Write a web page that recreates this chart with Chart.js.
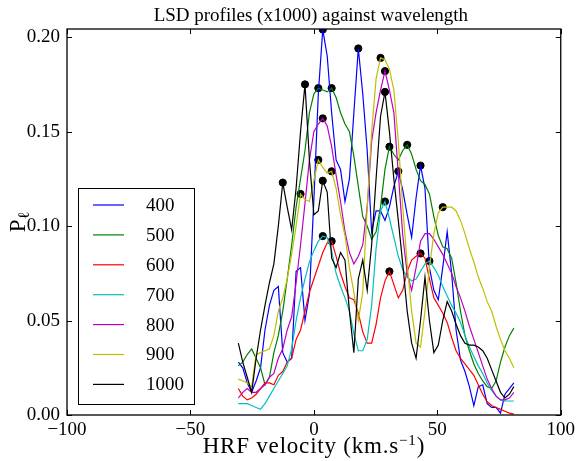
<!DOCTYPE html>
<html lang="en">
<head>
<meta charset="UTF-8">
<title>LSD profiles (x1000) against wavelength</title>
<script src="https://cdn.jsdelivr.net/npm/chart.js"></script>
<style>
  html, body { margin: 0; padding: 0; background: #fff; }
  #wrap { width: 579px; height: 461px; }
</style>
</head>
<body>
<div id="wrap"><canvas id="lsdChart" width="579" height="461"></canvas></div>
<script>
// velocity grid (km/s) shared by all profiles
const velocity = [-30.6, -28.8, -27.0, -25.2, -23.4, -21.6, -19.8, -18.0, -16.2, -14.4,
  -12.6, -10.8, -9.0, -7.2, -5.4, -3.6, -1.8, 0.0, 1.8, 3.6,
  5.4, 7.2, 9.0, 10.8, 12.6, 14.4, 16.2, 18.0, 19.8, 21.6,
  23.4, 25.2, 27.0, 28.8, 30.6, 32.4, 34.2, 36.0, 37.8, 39.6,
  41.4, 43.2, 45.0, 46.8, 48.6, 50.4, 52.2, 54.0, 55.8, 57.6,
  59.4, 61.2, 63.0, 64.8, 66.6, 68.4, 70.2, 72.0, 73.8, 75.6,
  77.4, 79.2, 81.0];

const p400 = [0.028, 0.025, 0.017, 0.012, 0.018, 0.025, 0.045, 0.058, 0.066, 0.068,
  0.033, 0.028, 0.030, 0.076, 0.078, 0.050, 0.064, 0.114, 0.170, 0.204,
  0.190, 0.160, 0.135, 0.130, 0.113, 0.125, 0.160, 0.194, 0.170, 0.140,
  0.097, 0.108, 0.108, 0.103, 0.110, 0.121, 0.129, 0.119, 0.106, 0.094,
  0.115, 0.132, 0.120, 0.078, 0.066, 0.061, 0.078, 0.097, 0.075, 0.045,
  0.029, 0.023, 0.015, 0.005, 0.015, 0.016, 0.006, 0.004, 0.004, 0.001,
  0.011, 0.014, 0.017];

const p500 = [0.026, 0.028, 0.032, 0.035, 0.030, 0.025, 0.016, 0.020, 0.033, 0.042,
  0.055, 0.072, 0.090, 0.110, 0.125, 0.140, 0.160, 0.170, 0.173, 0.172,
  0.171, 0.173, 0.168, 0.160, 0.154, 0.150, 0.137, 0.121, 0.105, 0.100,
  0.093, 0.097, 0.110, 0.130, 0.142, 0.138, 0.135, 0.140, 0.143, 0.138,
  0.130, 0.124, 0.122, 0.117, 0.105, 0.095, 0.089, 0.088, 0.083, 0.070,
  0.055, 0.042, 0.034, 0.027, 0.022, 0.018, 0.015, 0.014, 0.018, 0.028,
  0.036, 0.042, 0.046];

const p600 = [0.014, 0.010, 0.008, 0.009, 0.011, 0.014, 0.017, 0.017, 0.016, 0.021,
  0.023, 0.028, 0.030, 0.040, 0.045, 0.055, 0.065, 0.072, 0.079, 0.086,
  0.091, 0.092, 0.084, 0.075, 0.068, 0.062, 0.061, 0.054, 0.044, 0.038,
  0.038, 0.048, 0.062, 0.071, 0.076, 0.069, 0.062, 0.066, 0.076, 0.082,
  0.084, 0.0855, 0.083, 0.072, 0.062, 0.058, 0.054, 0.049, 0.041, 0.034,
  0.030, 0.027, 0.024, 0.021, 0.016, 0.011, 0.007, 0.005, 0.004, 0.003,
  0.002, 0.001, 0.0005];

const p700 = [0.006, 0.006, 0.006, 0.005, 0.004, 0.003, 0.006, 0.010, 0.014, 0.018,
  0.022, 0.026, 0.035, 0.050, 0.062, 0.072, 0.081, 0.087, 0.092, 0.0947,
  0.094, 0.087, 0.075, 0.068, 0.062, 0.055, 0.043, 0.034, 0.034, 0.040,
  0.058, 0.088, 0.108, 0.113, 0.104, 0.094, 0.084, 0.077, 0.073, 0.071,
  0.072, 0.076, 0.080, 0.0815, 0.078, 0.074, 0.068, 0.063, 0.058, 0.054,
  0.049, 0.042, 0.036, 0.031, 0.026, 0.022, 0.017, 0.013, 0.010, 0.008,
  0.0075, 0.0074, 0.0074];

const p800 = [0.009, 0.012, 0.014, 0.012, 0.012, 0.014, 0.016, 0.020, 0.022, 0.030,
  0.035, 0.045, 0.052, 0.070, 0.090, 0.112, 0.135, 0.150, 0.154, 0.157,
  0.153, 0.142, 0.127, 0.113, 0.097, 0.086, 0.080, 0.084, 0.090, 0.110,
  0.145, 0.160, 0.172, 0.182, 0.172, 0.160, 0.128, 0.095, 0.075, 0.066,
  0.078, 0.092, 0.096, 0.096, 0.093, 0.089, 0.085, 0.080, 0.075, 0.068,
  0.062, 0.055, 0.047, 0.040, 0.033, 0.026, 0.019, 0.014, 0.010, 0.008,
  0.008, 0.009, 0.012];

const p900 = [0.019, 0.018, 0.017, 0.015, 0.032, 0.033, 0.034, 0.035, 0.042, 0.055,
  0.062, 0.072, 0.085, 0.100, 0.117, 0.114, 0.113, 0.124, 0.135, 0.131,
  0.128, 0.129, 0.120, 0.106, 0.095, 0.078, 0.065, 0.050, 0.065, 0.110,
  0.150, 0.178, 0.189, 0.188, 0.183, 0.172, 0.145, 0.110, 0.080, 0.055,
  0.038, 0.036, 0.055, 0.078, 0.096, 0.107, 0.110, 0.110, 0.110, 0.108,
  0.103, 0.096, 0.088, 0.081, 0.073, 0.067, 0.060, 0.055, 0.047, 0.040,
  0.034, 0.030, 0.025];

const p1000 = [0.038, 0.028, 0.020, 0.012, 0.030, 0.045, 0.058, 0.070, 0.080, 0.100,
  0.123, 0.110, 0.098, 0.120, 0.150, 0.175, 0.135, 0.106, 0.108, 0.124,
  0.118, 0.083, 0.078, 0.086, 0.082, 0.055, 0.033, 0.072, 0.082, 0.066,
  0.090, 0.125, 0.158, 0.171, 0.150, 0.125, 0.103, 0.080, 0.055, 0.038,
  0.030, 0.050, 0.073, 0.050, 0.033, 0.037, 0.050, 0.060, 0.055, 0.048,
  0.042, 0.038, 0.037, 0.037, 0.036, 0.034, 0.030, 0.024, 0.018, 0.012,
  0.009, 0.011, 0.015];

// indices (into velocity) of the marked peaks of each profile
const peaks400 = [19, 27, 36, 41];
const peaks500 = [18, 21, 34, 38];
const peaks600 = [21, 34, 41];
const peaks700 = [19, 33, 43];
const peaks800 = [19, 33];
const peaks900 = [14, 18, 21, 32, 46];
const peaks1000 = [10, 15, 19, 33];

const labels = ['400', '500', '600', '700', '800', '900', '1000'];
const colors = ['#0000ff', '#008000', '#ff0000', '#00bfbf', '#bf00bf', '#bfbf00', '#000000'];
const seriesValues = [p400, p500, p600, p700, p800, p900, p1000];
const seriesPeaks = [peaks400, peaks500, peaks600, peaks700, peaks800, peaks900, peaks1000];

const xTicks = [-100, -50, 0, 50, 100];
const yTicks = [0, 0.05, 0.10, 0.15, 0.20];

const serif = '"Liberation Serif", "DejaVu Serif", serif';

const datasets = seriesValues.map((vals, i) => ({
    label: labels[i],
    data: velocity.map((v, j) => ({ x: v, y: vals[j] })),
    borderColor: colors[i],
    backgroundColor: colors[i],
    borderWidth: 1.2,
    pointRadius: 0,
    tension: 0,
    fill: false,
    order: 7 - i
}));

// black dots at the peaks
const peakPoints = [];
seriesPeaks.forEach((idx, i) => {
    idx.forEach(j => peakPoints.push({ x: velocity[j], y: seriesValues[i][j] }));
});
datasets.push({
    label: 'peaks',
    type: 'scatter',
    data: peakPoints,
    backgroundColor: '#000000',
    borderColor: '#000000',
    pointRadius: 3.6,
    order: 10
});

// frame, inward ticks, titles and legend in matplotlib classic look
const decorations = {
    id: 'decorations',
    afterDraw(chart) {
        const ctx = chart.ctx;
        const a = chart.chartArea;
        const xs = chart.scales.x, ys = chart.scales.y;
        ctx.save();
        ctx.strokeStyle = '#000';
        ctx.lineWidth = 1.3;
        ctx.strokeRect(a.left, a.top, a.right - a.left, a.bottom - a.top);

        ctx.lineWidth = 1;
        ctx.beginPath();
        xTicks.forEach(t => {
            const px = Math.round(xs.getPixelForValue(t)) + 0.5;
            ctx.moveTo(px, a.bottom); ctx.lineTo(px, a.bottom - 5);
            ctx.moveTo(px, a.top); ctx.lineTo(px, a.top + 5);
        });
        yTicks.forEach(t => {
            const py = Math.round(ys.getPixelForValue(t)) + 0.5;
            ctx.moveTo(a.left, py); ctx.lineTo(a.left + 5, py);
            ctx.moveTo(a.right, py); ctx.lineTo(a.right - 5, py);
        });
        ctx.stroke();

        const cx = (a.left + a.right) / 2;
        ctx.fillStyle = '#000';
        ctx.textBaseline = 'alphabetic';

        // title
        ctx.font = '19px ' + serif;
        ctx.textAlign = 'center';
        ctx.fillText('LSD profiles (x1000) against wavelength', cx - 3, 21);

        // x axis label with superscript
        const main = 'HRF velocity (km.s';
        const sup = '\u22121';
        const big = '23px ' + serif, small = '15px ' + serif;
        ctx.letterSpacing = '0.8px';
        ctx.font = big;
        const wMain = ctx.measureText(main).width;
        const wClose = ctx.measureText(')').width;
        ctx.font = small;
        const wSup = ctx.measureText(sup).width;
        let x0 = cx - (wMain + wSup + wClose) / 2;
        const base = 453;
        ctx.textAlign = 'left';
        ctx.font = big;
        ctx.fillText(main, x0, base);
        ctx.font = small;
        ctx.fillText(sup, x0 + wMain, base - 8);
        ctx.font = big;
        ctx.fillText(')', x0 + wMain + wSup, base);
        ctx.letterSpacing = '0px';

        // y axis label P_l
        ctx.save();
        ctx.translate(25, (a.top + a.bottom) / 2);
        ctx.rotate(-Math.PI / 2);
        ctx.font = '23px ' + serif;
        const wP = ctx.measureText('P').width;
        ctx.font = '16px ' + serif;
        const wL = ctx.measureText('\u2113').width;
        const y0 = -(wP + wL) / 2;
        ctx.font = '23px ' + serif;
        ctx.fillText('P', y0, 0);
        ctx.font = '16px ' + serif;
        ctx.fillText('\u2113', y0 + wP, 4);
        ctx.restore();

        // legend box
        const lx = 78.5, ly = 188.5, lw = 116, lh = 216;
        ctx.fillStyle = '#fff';
        ctx.fillRect(lx, ly, lw, lh);
        ctx.strokeStyle = '#000';
        ctx.lineWidth = 1;
        ctx.strokeRect(lx, ly, lw, lh);
        ctx.font = '19px ' + serif;
        ctx.textBaseline = 'middle';
        labels.forEach((lab, i) => {
            const yy = 205 + i * 29.9;
            ctx.strokeStyle = colors[i];
            ctx.lineWidth = 1.2;
            ctx.beginPath();
            ctx.moveTo(93, yy); ctx.lineTo(124, yy);
            ctx.stroke();
            ctx.fillStyle = '#000';
            ctx.fillText(lab, 146, yy + 1);
        });
        ctx.restore();
    }
};

new Chart(document.getElementById('lsdChart'), {
    type: 'line',
    data: { datasets: datasets },
    options: {
        responsive: false,
        animation: false,
        layout: { padding: { top: 29, right: 13, left: 0, bottom: 0 } },
        plugins: {
            legend: { display: false },
            title: { display: false },
            tooltip: { enabled: false }
        },
        scales: {
            x: {
                type: 'linear',
                min: -100,
                max: 100,
                grid: { display: false, drawTicks: false },
                border: { display: false },
                afterFit(scale) { scale.height = 46; },
                afterBuildTicks(scale) { scale.ticks = xTicks.map(v => ({ value: v })); },
                ticks: {
                    color: '#000',
                    padding: 4,
                    font: { family: serif, size: 19 },
                    maxRotation: 0,
                    callback: v => (v < 0 ? '\u2212' + Math.abs(v) : String(v))
                }
            },
            y: {
                type: 'linear',
                min: 0,
                max: 0.2043,
                grid: { display: false, drawTicks: false },
                border: { display: false },
                afterFit(scale) { scale.width = 67; },
                afterBuildTicks(scale) { scale.ticks = yTicks.map(v => ({ value: v })); },
                ticks: {
                    color: '#000',
                    padding: 7,
                    font: { family: serif, size: 19 },
                    callback: v => v.toFixed(2)
                }
            }
        }
    },
    plugins: [decorations]
});
</script>
</body>
</html>
